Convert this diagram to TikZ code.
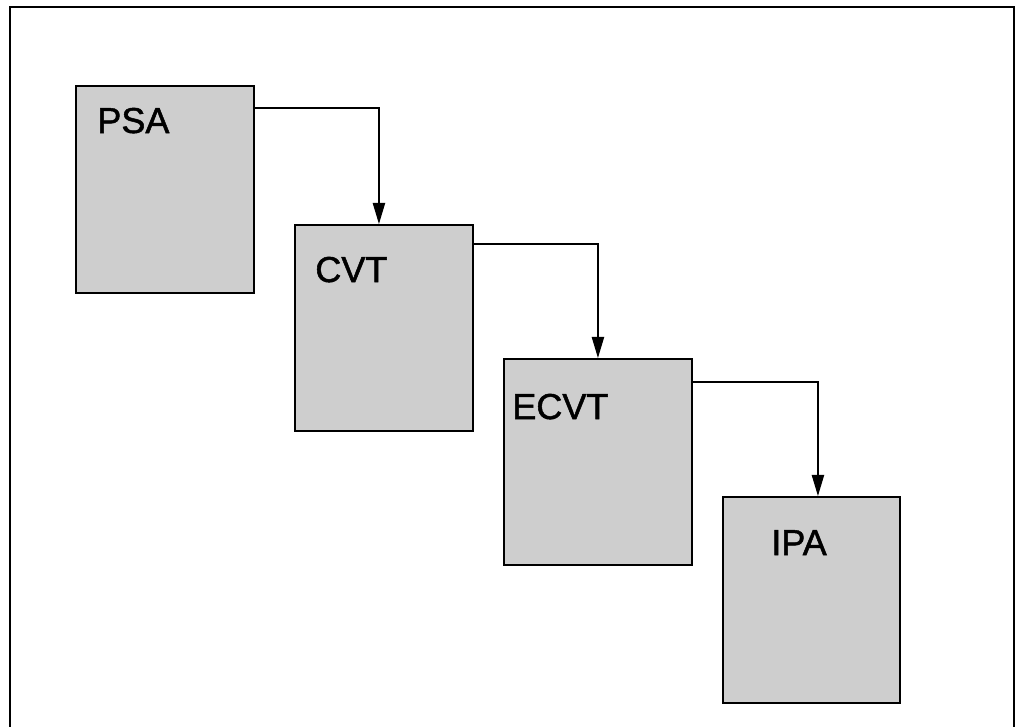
\documentclass[tikz,border=0pt]{standalone}
\usepackage{fontspec}
\setmainfont{Liberation Sans}
\newfontfamily\tagfont[BoldFont={Liberation Sans},BoldFeatures={FakeBold=1.4}]{Liberation Sans}
\usetikzlibrary{positioning,arrows.meta}
\definecolor{BoxShade}{RGB}{206,206,206}

\begin{document}
\begin{tikzpicture}[
  x=0.02cm, y=-0.02cm,
  block/.style={
    rectangle, draw=black, fill=BoxShade, line width=1.1pt,
    inner sep=0pt, anchor=north west
  },
  tag/.style={
    anchor=base west, inner sep=0pt,
    font=\tagfont\bfseries\fontsize{20.5}{24}\selectfont
  },
  arr/.style={draw=black, line width=0.75pt, -{Triangle[length=12pt,width=7pt]}}
]

\useasboundingbox (0,0) rectangle (1015,727);

%% Frame
\draw[line width=0.9pt] (10,740) -- (10,7) -- (1014,7) -- (1014,740);

%% Blocks
\node[block, minimum width=3.56cm, minimum height=4.14cm] (psa)  at (75,85)   {};
\node[block, minimum width=3.56cm, minimum height=4.12cm] (cvt)  at (294,224) {};
\node[block, minimum width=3.76cm, minimum height=4.12cm] (ecvt) at (503,358) {};
\node[block, minimum width=3.54cm, minimum height=4.12cm] (ipa)  at (722,496) {};

%% Names
\node[tag] (psat)  at (97,133)  {PSA};
\node[tag] (cvtt)  at (315,282) {CVT};
\node[tag] (ecvtt) at (512,419) {ECVT};
\node[tag] (ipat)  at (771,555) {IPA};

%% Arrows
\draw[arr] ([yshift=-0.46cm]psa.north east) -| ([xshift=-0.1cm]cvt.north);
\draw[arr] ([yshift=-0.40cm]cvt.north east) -| (ecvt.north);
\draw[arr] ([yshift=-0.48cm]ecvt.north east) -| ([xshift=0.13cm]ipa.north);

\end{tikzpicture}
\end{document}
